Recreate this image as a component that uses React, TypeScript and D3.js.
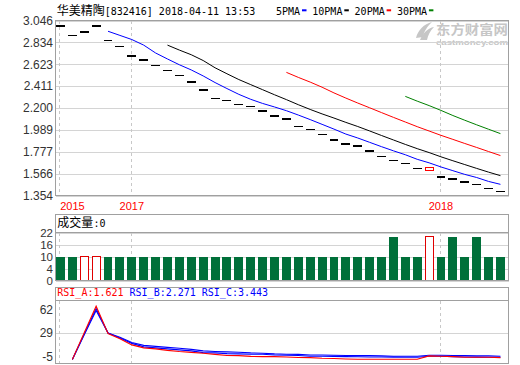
import React from 'react';
import * as d3 from 'd3';

const stockName = '华美精陶';
const titleInfo = '[832416] 2018-04-11 13:53';
const closes = [3.00, 2.91, 2.94, 3.00, 2.86, 2.80, 2.71, 2.67, 2.62, 2.57, 2.52, 2.46, 2.38, 2.30, 2.28, 2.24, 2.22, 2.18, 2.13, 2.10, 2.03, 2.00, 1.95, 1.90, 1.86, 1.84, 1.79, 1.74, 1.70, 1.67, 1.62, 1.62, 1.54, 1.52, 1.49, 1.47, 1.43, 1.40];
const opens = [3.00, 2.91, 2.94, 3.00, 2.86, 2.80, 2.71, 2.67, 2.62, 2.57, 2.52, 2.46, 2.38, 2.30, 2.28, 2.24, 2.22, 2.18, 2.13, 2.10, 2.03, 2.00, 1.95, 1.90, 1.86, 1.84, 1.79, 1.74, 1.70, 1.67, 1.62, 1.60, 1.54, 1.52, 1.49, 1.47, 1.43, 1.40];
const volumes = [11, 11, 11, 11, 11, 11, 11, 11, 11, 11, 11, 11, 11, 11, 11, 11, 11, 11, 11, 11, 11, 11, 11, 11, 11, 11, 11, 11, 20, 11, 11, 20, 11, 20, 11, 20, 11, 11];
const priceTicks = [3.046, 2.834, 2.623, 2.411, 2.200, 1.989, 1.777, 1.566, 1.354];
const volTickValues = [22, 16.5, 11, 5.5, 0];
const volTickLabels = ['22', '16', '10', '4', '0'];
const rsiTicks = [62, 29, -5];
const rsiGrid = [29];
const yearIndex = [0, 6, 32];
const yearLabels = ['2015', '2017', '2018'];
const maPeriods = [5, 10, 20, 30];
const maNames = ['5PMA', '10PMA', '20PMA', '30PMA'];
const maColors = ['#0000ff', '#000000', '#ff0000', '#008000'];
const rsiA = [null, -9.4, 29.2, 67.7, 28.1, 20.5, 11.7, 7.4, 5.9, 3.7, 2.0, 0.8, -0.4, -2.1, -3.6, -3.9, -5.0, -5.3, -5.3, -5.8, -6.5, -6.8, -7.7, -8.0, -8.7, -9.1, -9.1, -9.1, -9.1, -9.1, -9.1, -4.3, -4.8, -5.3, -6.2, -6.2, -6.2, -6.8];
const rsiB = [null, -9.4, 27.6, 64.3, 28.8, 22.7, 15.1, 11.0, 9.6, 8.1, 6.9, 5.2, 3.0, 2.2, 1.5, 1.1, 0.1, -0.4, -1.4, -1.8, -2.1, -2.9, -2.9, -3.3, -3.6, -3.9, -3.9, -4.3, -4.8, -4.8, -4.8, -3.3, -3.3, -3.6, -3.9, -4.3, -4.3, -4.8];
const rsiC = [null, -9.4, 26.2, 61.4, 28.8, 21.5, 13.9, 8.8, 7.4, 5.9, 4.4, 3.0, 0.5, 0.1, -1.0, -1.4, -1.8, -1.8, -2.9, -3.3, -3.6, -4.8, -4.8, -5.0, -5.3, -5.5, -5.8, -5.8, -6.1, -6.2, -6.2, -4.8, -4.8, -5.3, -5.8, -6.1, -6.2, -6.2];
const rsiTitles = ['RSI_A:1.621', 'RSI_B:2.271', 'RSI_C:3.443'];
const rsiColors = ['#ff0000', '#0000ff', '#0000ff'];
const volTitle = '成交量';
const volValueText = ':0';

const W = 520;
const H = 365;
const L = 55.5;
const R = 508.5;
const mainTop = 20.5;
const mainBottom = 195.5;
const volBoxTop = 214.5;
const volTop = 232.5;
const volBottom = 280.5;
const rsiBoxTop = 287.5;
const rsiTop = 300.5;
const rsiBottom = 364.5;

const BORDER = '#a0a0a0';
const GRID = '#d4d4d4';
const DASH = '#c8c8c8';
const LABEL = '#333333';
const VOL_GREEN = '#00703a';
const MONO = '"DejaVu Sans Mono", "Liberation Mono", monospace';
const CJK = '"Noto Sans CJK SC", "Noto Sans", sans-serif';
const SANS = '"Liberation Sans", Arial, sans-serif';

function movingAverage(period: number) {
  return closes.map((_, i) => (i < period - 1 ? null : d3.mean(closes.slice(i - period + 1, i + 1)) as number));
}

export default function App() {
  const n = closes.length;
  const x = d3.scaleBand<number>().domain(d3.range(n)).range([56, 508]).paddingInner(0.25).paddingOuter(0.13).align(0);
  const bw = x.bandwidth();
  const cx = (i: number) => (x(i) as number) + bw / 2;
  const yP = d3.scaleLinear().domain([1.354, 3.046]).range([mainBottom, mainTop]);
  const yV = d3.scaleLinear().domain([0, 22]).range([volBottom, volTop]);
  const yR = d3.scaleLinear().domain([-16, 76]).range([rsiBottom - 0.5, rsiTop]);

  const lineGen = (ys: (v: number) => number) =>
    d3.line<number | null>()
      .defined((d) => d !== null)
      .x((_, i) => cx(i))
      .y((d) => ys(d as number));

  const isUp = (i: number) => closes[i] > opens[i] || (i > 0 && closes[i] > closes[i - 1]);

  let lx = 276;
  const legend = maNames.map((name, k) => {
    const tx = lx;
    const mx = tx + name.length * 6 + 2;
    lx = mx + 4.5 + 5.8;
    return { name, tx, mx, color: maColors[k] };
  });

  const yearX = yearIndex.map((i) => Math.round(cx(i)) - 0.5);

  return (
    <svg width={W} height={H} style={{ position: 'absolute', left: 0, top: 0, background: '#fff' }}>
      <rect x={0} y={0} width={W} height={H} fill="#fff" />
      {/* watermark */}
      <g fill="#c6c6c6">
        <path d="M416,38 C418,30 424,24 432,22 C427,27 424,31 423,37 Z" />
        <path d="M420,40 C423,33 428,28 434,27 C430,31 428,35 427,40 Z" />
        <text x={436} y={33.5} fontFamily={CJK} fontSize={13} fontWeight="bold" textLength={72} lengthAdjust="spacingAndGlyphs">东方财富网</text>
        <text x={436} y={44.5} fontFamily={SANS} fontSize={7} fontWeight="bold" textLength={72} lengthAdjust="spacingAndGlyphs">eastmoney.com</text>
      </g>

      {/* title */}
      <text x={56.7} y={14.5} fontSize={12} fill="#000">
        <tspan fontFamily={CJK}>{stockName}</tspan>
      </text>
      <text x={104.7} y={14.5} fontSize={10} fontFamily={MONO} fill="#000">{titleInfo}</text>
      {legend.map((d) => (
        <g key={d.name}>
          <text x={d.tx} y={14.5} fontSize={10} fontFamily={MONO} fill="#000">{d.name}</text>
          <rect x={d.mx} y={9.3} width={4.5} height={2} fill={d.color} />
        </g>
      ))}

      {/* main panel grid */}
      <g shapeRendering="crispEdges">
        {priceTicks.map((t) => (
          <line key={t} x1={L} x2={R} y1={Math.round(yP(t)) + 0.5} y2={Math.round(yP(t)) + 0.5} stroke={GRID} />
        ))}
        {yearX.map((xx, k) => (
          <line key={k} x1={xx} x2={xx} y1={mainTop} y2={mainBottom} stroke={DASH} strokeDasharray="3,3" />
        ))}
      </g>
      {priceTicks.map((t) => (
        <text key={t} x={53} y={yP(t)} dy="0.36em" textAnchor="end" fontFamily={SANS} fontSize={12} fill={LABEL}>
          {t.toFixed(3)}
        </text>
      ))}

      {/* candles */}
      <g shapeRendering="crispEdges">
        {closes.map((c, i) => {
          const o = opens[i];
          if (Math.abs(c - o) < 1e-9) {
            return <rect key={i} x={x(i)} y={yP(c)} width={bw} height={1.5} fill="#000" />;
          }
          const up = c > o;
          const top = yP(Math.max(o, c));
          const h = Math.abs(yP(o) - yP(c));
          return (
            <rect key={i} x={(x(i) as number) + 0.5} y={top} width={bw - 1} height={h} fill="#fff" stroke={up ? '#ff0000' : VOL_GREEN} strokeWidth={1} />
          );
        })}
      </g>

      {/* MA lines */}
      {maPeriods.map((p, k) => (
        <path key={p} d={lineGen(yP)(movingAverage(p)) || ''} fill="none" stroke={maColors[k]} strokeWidth={1} />
      ))}

      {/* main border */}
      <rect x={L} y={mainTop} width={R - L} height={mainBottom - mainTop} fill="none" stroke={BORDER} shapeRendering="crispEdges" />

      {/* year labels */}
      {yearIndex.map((i, k) => {
        const w = 24;
        const xc = Math.max(cx(i), L + 5 + w / 2);
        return (
          <text key={k} x={xc} y={210} textAnchor="middle" fontFamily={SANS} fontSize={11} fill="#ff0000">
            {yearLabels[k]}
          </text>
        );
      })}

      {/* volume panel */}
      <g shapeRendering="crispEdges">
        {volTickValues.map((t) => (
          <line key={t} x1={L} x2={R} y1={Math.round(yV(t)) + 0.5} y2={Math.round(yV(t)) + 0.5} stroke={GRID} />
        ))}
        {yearX.map((xx, k) => (
          <line key={k} x1={xx} x2={xx} y1={volTop} y2={volBottom} stroke={DASH} strokeDasharray="3,3" />
        ))}
        {volumes.map((v, i) =>
          isUp(i) ? (
            <rect key={i} x={(x(i) as number) + 0.5} y={yV(v)} width={bw - 1} height={volBottom - yV(v) - 0.5} fill="#fff" stroke="#e00000" />
          ) : (
            <rect key={i} x={x(i)} y={yV(v)} width={bw} height={volBottom - yV(v)} fill={VOL_GREEN} />
          )
        )}
        <rect x={L} y={volBoxTop} width={R - L} height={volBottom - volBoxTop} fill="none" stroke={BORDER} />
        <line x1={L} x2={R} y1={volTop} y2={volTop} stroke={BORDER} />
      </g>
      <text x={57.3} y={227} fontSize={12} fill="#000">
        <tspan fontFamily={CJK}>{volTitle}</tspan>
      </text>
      <text x={93.5} y={227} fontSize={10} fontFamily={MONO} fill="#000">{volValueText}</text>
      {volTickValues.map((t, k) => (
        <text key={t} x={53} y={yV(t)} dy="0.36em" textAnchor="end" fontFamily={SANS} fontSize={11.5} fill={LABEL}>
          {volTickLabels[k]}
        </text>
      ))}

      {/* RSI panel */}
      <g shapeRendering="crispEdges">
        {rsiGrid.map((t) => (
          <line key={t} x1={L} x2={R} y1={Math.round(yR(t)) + 0.5} y2={Math.round(yR(t)) + 0.5} stroke={GRID} />
        ))}
        {yearX.map((xx, k) => (
          <line key={k} x1={xx} x2={xx} y1={rsiTop} y2={rsiBottom} stroke={DASH} strokeDasharray="3,3" />
        ))}
      </g>
      {rsiTicks.map((t) => (
        <text key={t} x={53} y={yR(t)} dy="0.36em" textAnchor="end" fontFamily={SANS} fontSize={12} fill={LABEL}>
          {t}
        </text>
      ))}
      {[rsiC, rsiB, rsiA].map((arr, k) => (
        <path key={k} d={lineGen(yR)(arr) || ''} fill="none" stroke={k === 2 ? '#ff0000' : '#0000ff'} strokeWidth={1.1} />
      ))}
      <g shapeRendering="crispEdges">
        <rect x={L} y={rsiBoxTop} width={R - L} height={rsiBottom - rsiBoxTop - 1} fill="none" stroke={BORDER} />
        <line x1={L} x2={R} y1={rsiTop} y2={rsiTop} stroke={BORDER} />
      </g>
      <text x={57.3} y={295.5} fontSize={10} fontFamily={MONO}>
        {rsiTitles.map((s, k) => (
          <tspan key={k} fill={rsiColors[k]}>{s + (k < rsiTitles.length - 1 ? ' ' : '')}</tspan>
        ))}
      </text>
    </svg>
  );
}
